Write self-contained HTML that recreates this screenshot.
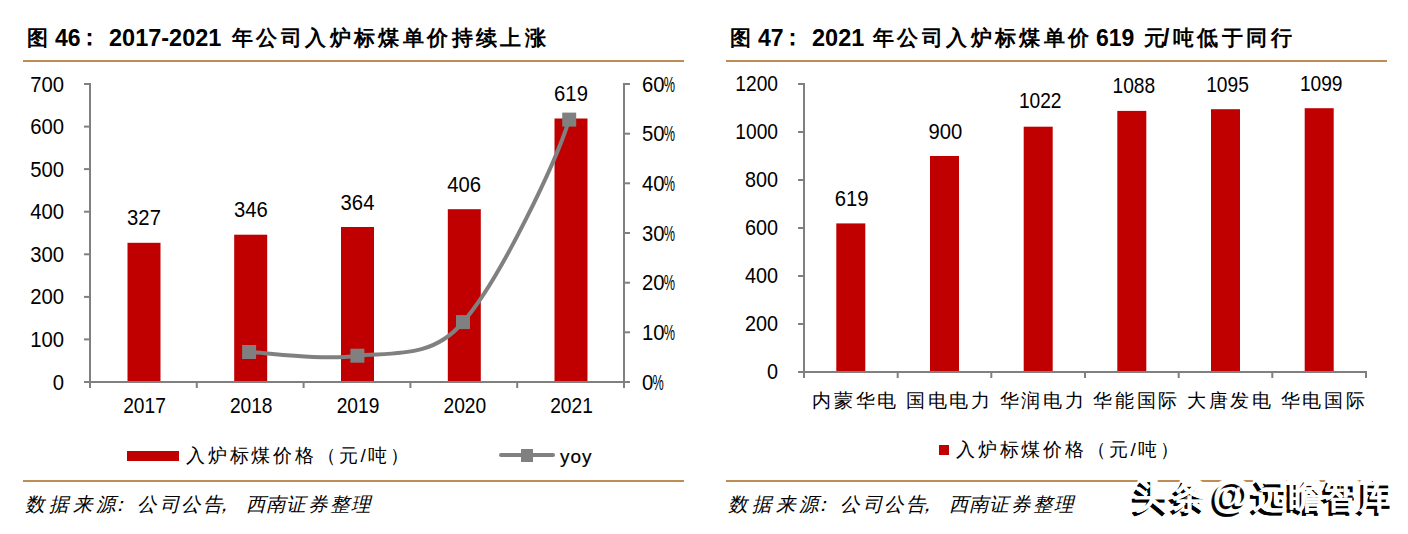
<!DOCTYPE html><html><head><meta charset="utf-8"><style>html,body{margin:0;padding:0;background:#fff;width:1408px;height:534px;overflow:hidden}svg{display:block}text{font-family:"Liberation Sans",sans-serif;fill:#000}</style></head><body>
<svg width="1408" height="534" viewBox="0 0 1408 534">
<text y="46" font-size="23" font-weight="bold"><tspan x="27" font-size="21" y="44.5">图</tspan><tspan x="55" y="46">46</tspan><tspan x="78" y="45">：</tspan><tspan x="109" y="46" font-size="23.5">2017-2021</tspan><tspan x="232" font-size="21" letter-spacing="3.4" y="44.5">年公司入炉标煤单价持续上涨</tspan></text>
<text y="46" font-size="23" font-weight="bold"><tspan x="730" font-size="21" y="44.5">图</tspan><tspan x="758" y="46">47</tspan><tspan x="781" y="45">：</tspan><tspan x="812" y="46" font-size="23.5">2021</tspan><tspan x="873" font-size="21" letter-spacing="3.4" y="44.5">年公司入炉标煤单价</tspan><tspan x="1096" y="46">619</tspan><tspan x="1144" font-size="21" y="44.5">元</tspan><tspan x="1163" y="46">/</tspan><tspan x="1173" font-size="21" letter-spacing="3.4" y="44.5">吨低于同行</tspan></text>
<rect x="23" y="60" width="661" height="2" fill="#C08C55"/>
<rect x="23" y="480" width="661" height="2" fill="#C08C55"/>
<rect x="726" y="60" width="661" height="2" fill="#C08C55"/>
<rect x="726" y="480" width="661" height="2" fill="#C08C55"/>
<rect x="127.5" y="242.8" width="33" height="139.2" fill="#C00000"/>
<text transform="translate(144.0,225.3) scale(0.93,1)" font-size="21.8" text-anchor="middle">327</text>
<text transform="translate(144.5,412.7) scale(0.88,1)" font-size="21.8" text-anchor="middle">2017</text>
<rect x="234.2" y="234.7" width="33" height="147.3" fill="#C00000"/>
<text transform="translate(250.8,217.2) scale(0.93,1)" font-size="21.8" text-anchor="middle">346</text>
<text transform="translate(251.2,412.7) scale(0.88,1)" font-size="21.8" text-anchor="middle">2018</text>
<rect x="341.0" y="227.0" width="33" height="155.0" fill="#C00000"/>
<text transform="translate(357.5,209.5) scale(0.93,1)" font-size="21.8" text-anchor="middle">364</text>
<text transform="translate(358.0,412.7) scale(0.88,1)" font-size="21.8" text-anchor="middle">2019</text>
<rect x="447.8" y="209.2" width="33" height="172.8" fill="#C00000"/>
<text transform="translate(464.2,191.7) scale(0.93,1)" font-size="21.8" text-anchor="middle">406</text>
<text transform="translate(464.8,412.7) scale(0.88,1)" font-size="21.8" text-anchor="middle">2020</text>
<rect x="554.5" y="118.5" width="33" height="263.5" fill="#C00000"/>
<text transform="translate(571.0,101.0) scale(0.93,1)" font-size="21.8" text-anchor="middle">619</text>
<text transform="translate(571.5,412.7) scale(0.88,1)" font-size="21.8" text-anchor="middle">2021</text>
<rect x="89" y="83" width="2" height="299" fill="#808080"/>
<rect x="623" y="83" width="2" height="299" fill="#808080"/>
<rect x="84" y="381" width="546" height="2" fill="#808080"/>
<rect x="84" y="83.0" width="6" height="2" fill="#808080"/>
<text transform="translate(64.0,91.5) scale(0.93,1)" font-size="21.8" text-anchor="end">700</text>
<rect x="84" y="125.6" width="6" height="2" fill="#808080"/>
<text transform="translate(64.0,134.1) scale(0.93,1)" font-size="21.8" text-anchor="end">600</text>
<rect x="84" y="168.1" width="6" height="2" fill="#808080"/>
<text transform="translate(64.0,176.6) scale(0.93,1)" font-size="21.8" text-anchor="end">500</text>
<rect x="84" y="210.7" width="6" height="2" fill="#808080"/>
<text transform="translate(64.0,219.2) scale(0.93,1)" font-size="21.8" text-anchor="end">400</text>
<rect x="84" y="253.3" width="6" height="2" fill="#808080"/>
<text transform="translate(64.0,261.8) scale(0.93,1)" font-size="21.8" text-anchor="end">300</text>
<rect x="84" y="295.9" width="6" height="2" fill="#808080"/>
<text transform="translate(64.0,304.4) scale(0.93,1)" font-size="21.8" text-anchor="end">200</text>
<rect x="84" y="338.4" width="6" height="2" fill="#808080"/>
<text transform="translate(64.0,346.9) scale(0.93,1)" font-size="21.8" text-anchor="end">100</text>
<rect x="84" y="381.0" width="6" height="2" fill="#808080"/>
<text transform="translate(64.0,389.5) scale(0.93,1)" font-size="21.8" text-anchor="end">0</text>
<rect x="624" y="83.0" width="6" height="2" fill="#808080"/>
<text transform="translate(642.0,91.5) scale(0.93,1)" font-size="21.8" text-anchor="start">60</text>
<text transform="translate(663.7,91.5) scale(0.58,1)" font-size="21.8">%</text>
<rect x="624" y="132.7" width="6" height="2" fill="#808080"/>
<text transform="translate(642.0,141.2) scale(0.93,1)" font-size="21.8" text-anchor="start">50</text>
<text transform="translate(663.7,141.2) scale(0.58,1)" font-size="21.8">%</text>
<rect x="624" y="182.3" width="6" height="2" fill="#808080"/>
<text transform="translate(642.0,190.8) scale(0.93,1)" font-size="21.8" text-anchor="start">40</text>
<text transform="translate(663.7,190.8) scale(0.58,1)" font-size="21.8">%</text>
<rect x="624" y="232.0" width="6" height="2" fill="#808080"/>
<text transform="translate(642.0,240.5) scale(0.93,1)" font-size="21.8" text-anchor="start">30</text>
<text transform="translate(663.7,240.5) scale(0.58,1)" font-size="21.8">%</text>
<rect x="624" y="281.7" width="6" height="2" fill="#808080"/>
<text transform="translate(642.0,290.2) scale(0.93,1)" font-size="21.8" text-anchor="start">20</text>
<text transform="translate(663.7,290.2) scale(0.58,1)" font-size="21.8">%</text>
<rect x="624" y="331.3" width="6" height="2" fill="#808080"/>
<text transform="translate(642.0,339.8) scale(0.93,1)" font-size="21.8" text-anchor="start">10</text>
<text transform="translate(663.7,339.8) scale(0.58,1)" font-size="21.8">%</text>
<rect x="624" y="381.0" width="6" height="2" fill="#808080"/>
<text transform="translate(642.0,389.5) scale(0.93,1)" font-size="21.8" text-anchor="start">0</text>
<text transform="translate(652.5,389.5) scale(0.58,1)" font-size="21.8">%</text>
<rect x="89.0" y="382" width="2" height="6" fill="#808080"/>
<rect x="195.8" y="382" width="2" height="6" fill="#808080"/>
<rect x="302.6" y="382" width="2" height="6" fill="#808080"/>
<rect x="409.4" y="382" width="2" height="6" fill="#808080"/>
<rect x="516.2" y="382" width="2" height="6" fill="#808080"/>
<rect x="623.0" y="382" width="2" height="6" fill="#808080"/>
<path d="M249.1,352.0 C267.1,352.6 321.8,360.7 357.4,355.7 C395.0,352.5 433.0,358.0 463.0,322.1 C500.0,280.0 556.0,162.0 569.2,119.6" fill="none" stroke="#808080" stroke-width="4"/>
<rect x="242.1" y="345.0" width="14" height="14" fill="#808080"/>
<rect x="350.4" y="348.7" width="14" height="14" fill="#808080"/>
<rect x="456.0" y="315.1" width="14" height="14" fill="#808080"/>
<rect x="562.2" y="112.6" width="14" height="14" fill="#808080"/>
<rect x="127" y="451" width="52" height="10" fill="#C00000"/>
<text x="186" y="462" font-size="19" letter-spacing="2.8">入炉标煤价格（元/吨）</text>
<line x1="501" y1="455" x2="553" y2="455" stroke="#808080" stroke-width="4" stroke-linecap="round"/>
<rect x="521" y="449" width="12" height="13" fill="#808080"/>
<text x="560" y="463.4" font-size="19" letter-spacing="1" style="stroke:#000;stroke-width:0.2">yoy</text>
<text y="511" font-size="19.5" font-style="italic"><tspan x="24.6">数</tspan><tspan x="49.1">据</tspan><tspan x="72.9">来</tspan><tspan x="95.6">源</tspan><tspan x="110.3">：</tspan><tspan x="136.5">公</tspan><tspan x="160.0">司</tspan><tspan x="181.0">公</tspan><tspan x="202.5">告</tspan><tspan x="214.0">，</tspan><tspan x="245.5">西</tspan><tspan x="266.0">南</tspan><tspan x="286.3">证</tspan><tspan x="307.6">券</tspan><tspan x="329.6">整</tspan><tspan x="350.5">理</tspan></text>
<rect x="836.3" y="223.4" width="29" height="148.6" fill="#C00000"/>
<text transform="translate(851.6,206.0) scale(0.93,1)" font-size="21.8" text-anchor="middle">619</text>
<text x="855.6" y="406.5" font-size="19" text-anchor="middle" letter-spacing="2.6">内蒙华电</text>
<rect x="930.0" y="156.0" width="29" height="216.0" fill="#C00000"/>
<text transform="translate(945.3,139.0) scale(0.93,1)" font-size="21.8" text-anchor="middle">900</text>
<text x="949.3" y="406.5" font-size="19" text-anchor="middle" letter-spacing="2.6">国电电力</text>
<rect x="1023.7" y="126.7" width="29" height="245.3" fill="#C00000"/>
<text transform="translate(1040.2,108.4) scale(0.88,1)" font-size="21.8" text-anchor="middle">1022</text>
<text x="1043.0" y="406.5" font-size="19" text-anchor="middle" letter-spacing="2.6">华润电力</text>
<rect x="1117.3" y="110.9" width="29" height="261.1" fill="#C00000"/>
<text transform="translate(1133.8,92.5) scale(0.88,1)" font-size="21.8" text-anchor="middle">1088</text>
<text x="1136.6" y="406.5" font-size="19" text-anchor="middle" letter-spacing="2.6">华能国际</text>
<rect x="1211.0" y="109.2" width="29" height="262.8" fill="#C00000"/>
<text transform="translate(1227.5,91.8) scale(0.88,1)" font-size="21.8" text-anchor="middle">1095</text>
<text x="1230.3" y="406.5" font-size="19" text-anchor="middle" letter-spacing="2.6">大唐发电</text>
<rect x="1304.7" y="108.2" width="29" height="263.8" fill="#C00000"/>
<text transform="translate(1321.2,90.8) scale(0.88,1)" font-size="21.8" text-anchor="middle">1099</text>
<text x="1324.0" y="406.5" font-size="19" text-anchor="middle" letter-spacing="2.6">华电国际</text>
<rect x="803" y="83" width="2" height="289" fill="#808080"/>
<rect x="798" y="371" width="569" height="2" fill="#808080"/>
<rect x="798" y="83.0" width="6" height="2" fill="#808080"/>
<text transform="translate(778.0,91.0) scale(0.88,1)" font-size="21.8" text-anchor="end">1200</text>
<rect x="798" y="131.0" width="6" height="2" fill="#808080"/>
<text transform="translate(778.0,139.0) scale(0.88,1)" font-size="21.8" text-anchor="end">1000</text>
<rect x="798" y="179.0" width="6" height="2" fill="#808080"/>
<text transform="translate(778.0,187.0) scale(0.91,1)" font-size="21.8" text-anchor="end">800</text>
<rect x="798" y="227.0" width="6" height="2" fill="#808080"/>
<text transform="translate(778.0,235.0) scale(0.91,1)" font-size="21.8" text-anchor="end">600</text>
<rect x="798" y="275.0" width="6" height="2" fill="#808080"/>
<text transform="translate(778.0,283.0) scale(0.91,1)" font-size="21.8" text-anchor="end">400</text>
<rect x="798" y="323.0" width="6" height="2" fill="#808080"/>
<text transform="translate(778.0,331.0) scale(0.91,1)" font-size="21.8" text-anchor="end">200</text>
<rect x="798" y="371.0" width="6" height="2" fill="#808080"/>
<text transform="translate(778.0,379.0) scale(0.91,1)" font-size="21.8" text-anchor="end">0</text>
<rect x="803.0" y="372" width="2" height="6" fill="#808080"/>
<rect x="896.7" y="372" width="2" height="6" fill="#808080"/>
<rect x="990.3" y="372" width="2" height="6" fill="#808080"/>
<rect x="1084.0" y="372" width="2" height="6" fill="#808080"/>
<rect x="1177.7" y="372" width="2" height="6" fill="#808080"/>
<rect x="1271.3" y="372" width="2" height="6" fill="#808080"/>
<rect x="1365.0" y="372" width="2" height="6" fill="#808080"/>
<rect x="939" y="445" width="10" height="10" fill="#C00000"/>
<text x="956" y="456" font-size="19" letter-spacing="2.8">入炉标煤价格（元/吨）</text>
<text y="511" font-size="19.5" font-style="italic"><tspan x="727.6">数</tspan><tspan x="752.1">据</tspan><tspan x="775.9">来</tspan><tspan x="798.6">源</tspan><tspan x="813.4">：</tspan><tspan x="839.5">公</tspan><tspan x="863.0">司</tspan><tspan x="884.0">公</tspan><tspan x="905.5">告</tspan><tspan x="917.0">，</tspan><tspan x="948.5">西</tspan><tspan x="969.0">南</tspan><tspan x="989.3">证</tspan><tspan x="1010.6">券</tspan><tspan x="1032.6">整</tspan><tspan x="1053.5">理</tspan></text>
<text y="508" font-weight="bold" style="fill:#fff;stroke:#fff;stroke-width:7;stroke-linejoin:round"><tspan x="1134.4" font-size="34">头</tspan><tspan x="1171.7" font-size="34">条</tspan><tspan x="1212.5" font-size="38">@</tspan><tspan x="1252.7" font-size="34">远</tspan><tspan x="1289.3" font-size="34">瞻</tspan><tspan x="1323.6" font-size="34">智</tspan><tspan x="1359.4" font-size="34">库</tspan></text>
<text y="510.5" font-weight="bold" style="fill:#000;stroke:#000;stroke-width:0.5"><tspan x="1131.4" font-size="34">头</tspan><tspan x="1168.7" font-size="34">条</tspan><tspan x="1209.5" font-size="38">@</tspan><tspan x="1249.7" font-size="34">远</tspan><tspan x="1286.3" font-size="34">瞻</tspan><tspan x="1320.6" font-size="34">智</tspan><tspan x="1356.4" font-size="34">库</tspan></text>
<text y="508" font-weight="bold" style="fill:#fff;stroke:#fff;stroke-width:0.3"><tspan x="1134.4" font-size="34">头</tspan><tspan x="1171.7" font-size="34">条</tspan><tspan x="1212.5" font-size="38">@</tspan><tspan x="1252.7" font-size="34">远</tspan><tspan x="1289.3" font-size="34">瞻</tspan><tspan x="1323.6" font-size="34">智</tspan><tspan x="1359.4" font-size="34">库</tspan></text>
</svg></body></html>
